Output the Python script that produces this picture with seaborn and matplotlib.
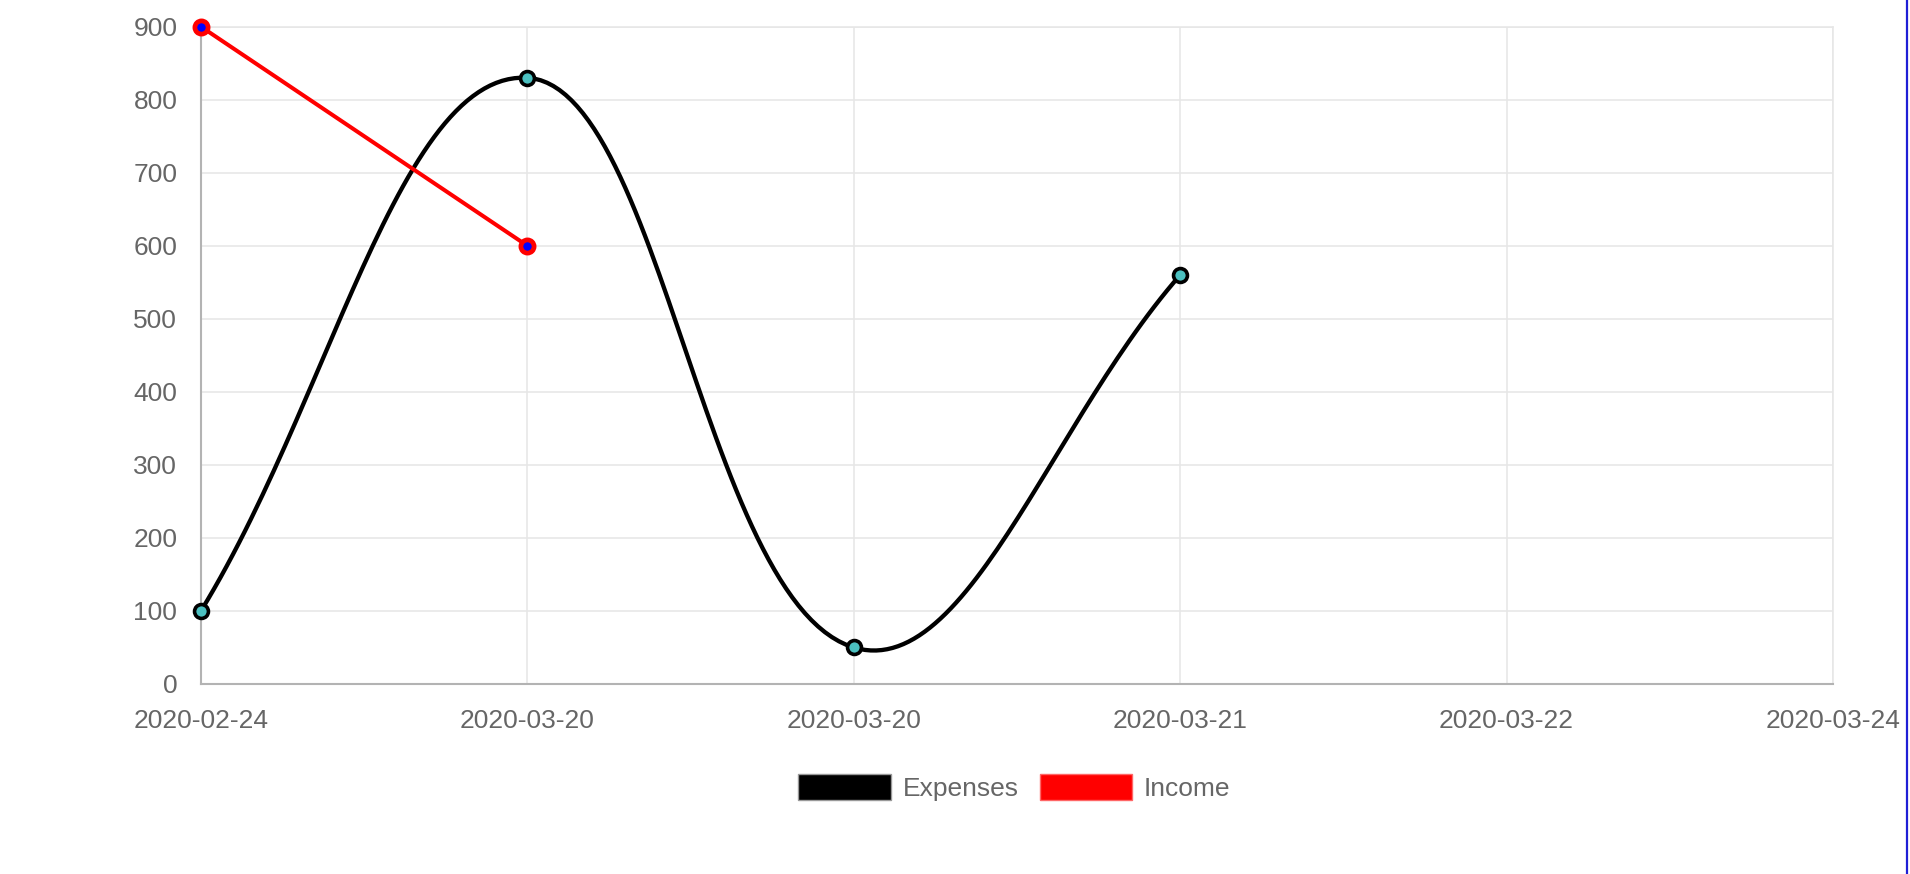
import numpy as np
import pandas as pd
import matplotlib
matplotlib.use("Agg")
import matplotlib.pyplot as plt
from matplotlib.patches import Patch
from matplotlib.lines import Line2D
import seaborn as sns

# chart data
dates = ["2020-02-24", "2020-03-20", "2020-03-20", "2020-03-21", "2020-03-22", "2020-03-24"]
expenses = [100, 830, 50, 560]
income = [900, 600]

sns.set_style("white")
plt.rcParams['font.family'] = ['Liberation Sans', 'DejaVu Sans']

fig = plt.figure(figsize=(19.1, 8.74), dpi=100)
ax = fig.add_axes([0.1052, 0.2174, 0.8545, 0.7521])
ax.set_xlim(0, len(dates) - 1)
ax.set_ylim(0, 900)


def spline_points(xs, ys, tension=0.4, n=60):
    # chart.js style cubic bezier, computed in pixel space
    pts = ax.transData.transform(np.column_stack([xs, ys]))
    ctrl_prev, ctrl_next = [], []
    for i in range(len(pts)):
        p0 = pts[i - 1] if i > 0 else pts[i]
        p1 = pts[i]
        p2 = pts[i + 1] if i < len(pts) - 1 else pts[i]
        d01 = np.hypot(*(p1 - p0))
        d12 = np.hypot(*(p2 - p1))
        s01 = d01 / (d01 + d12) if d01 + d12 else 0
        s12 = d12 / (d01 + d12) if d01 + d12 else 0
        ctrl_prev.append(p1 - tension * s01 * (p2 - p0))
        ctrl_next.append(p1 + tension * s12 * (p2 - p0))
    t = np.linspace(0, 1, n)[:, None]
    out = [pts[0][None, :]]
    for i in range(len(pts) - 1):
        a, b, c, d = pts[i], ctrl_next[i], ctrl_prev[i + 1], pts[i + 1]
        seg = (1 - t) ** 3 * a + 3 * (1 - t) ** 2 * t * b + 3 * (1 - t) * t ** 2 * c + t ** 3 * d
        out.append(seg[1:])
    px = np.vstack(out)
    return ax.transData.inverted().transform(px)


exp_df = pd.DataFrame({"x": np.arange(len(expenses)), "y": expenses})
inc_df = pd.DataFrame({"x": np.arange(len(income)), "y": income})

curve = spline_points(exp_df["x"].values, exp_df["y"].values)
curve_df = pd.DataFrame({"x": curve[:, 0], "y": curve[:, 1]})

sns.lineplot(data=curve_df, x="x", y="y", sort=False, estimator=None,
             color="black", linewidth=3.1, ax=ax, zorder=3)
sns.lineplot(data=inc_df, x="x", y="y", sort=False, estimator=None,
             color="#ff0000", linewidth=2.9, ax=ax, zorder=3)
ax.plot(exp_df["x"], exp_df["y"], "o", ms=10, mfc="#4bc0c0", mec="black",
        mew=2.6, zorder=4, clip_on=False)
ax.plot(inc_df["x"], inc_df["y"], "o", ms=9.5, mfc="#0000ff", mec="#ff0000",
        mew=3.4, zorder=4, clip_on=False)

# axes styling
ax.set_xticks(range(len(dates)))
ax.set_xticklabels(dates)
ax.set_yticks(range(0, 901, 100))
ax.set_xlabel("")
ax.set_ylabel("")
ax.grid(True, color="#e6e6e6", linewidth=1.1)
ax.set_axisbelow(True)
for s in ["top", "right"]:
    ax.spines[s].set_color("#e6e6e6")
    ax.spines[s].set_linewidth(1.1)
for s in ["left", "bottom"]:
    ax.spines[s].set_color("#b3b3b3")
    ax.spines[s].set_linewidth(1.5)
ax.tick_params(axis="both", length=15, width=1.1, color="#e6e6e6",
               labelcolor="#666666", labelsize=19)
ax.tick_params(axis="y", pad=2)
ax.tick_params(axis="x", pad=3)
ax.xaxis.get_major_ticks()[0].tick1line.set_color("#b3b3b3")
ax.yaxis.get_major_ticks()[0].tick1line.set_color("#b3b3b3")

# legend centred under the plot area
handles = [Patch(facecolor="black", edgecolor="#999999", linewidth=1),
           Patch(facecolor="#ff0000", edgecolor="#ff6666", linewidth=1)]
fig.legend(handles, ["Expenses", "Income"], loc="center", bbox_to_anchor=(0.531, 0.0995),
           ncol=2, frameon=False, fontsize=19, labelcolor="#666666",
           handlelength=3.5, handleheight=1.15, handletextpad=0.45, columnspacing=0.8)

# blue border at the right edge of the page
fig.add_artist(Line2D([0.9985, 0.9985], [0, 1], color="#1f1fd6", linewidth=1.6))

fig.savefig("out.png", dpi=100)
